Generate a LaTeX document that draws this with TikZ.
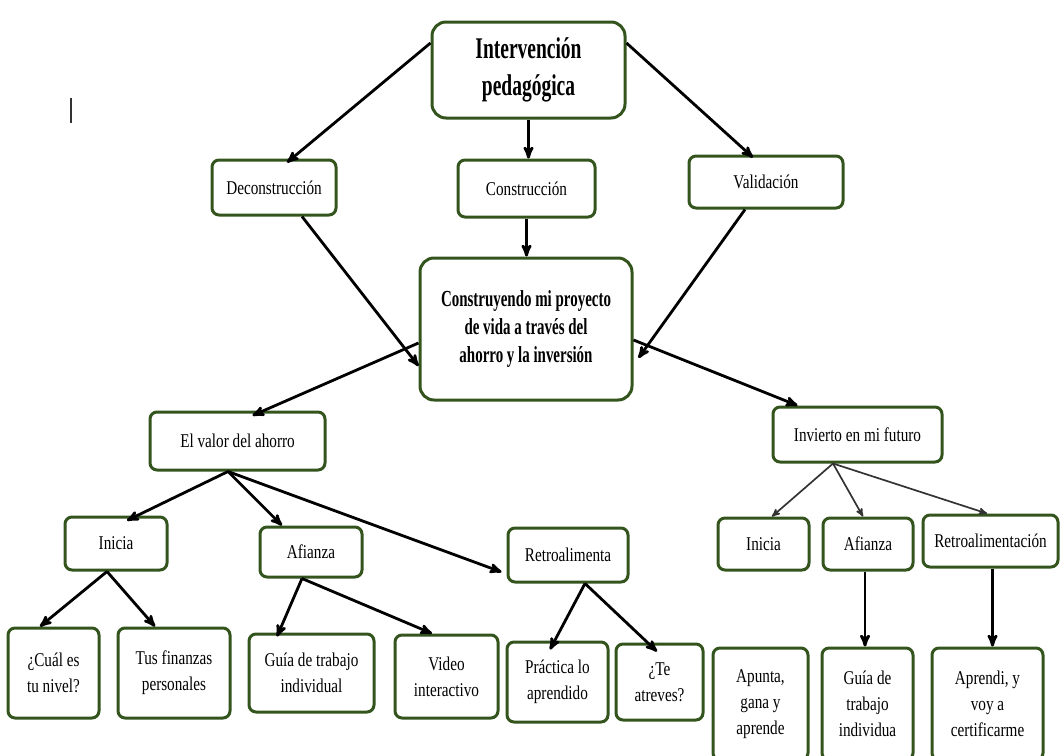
\documentclass[tikz,border=0pt]{standalone}
\usepackage{fontspec}
\setmainfont{Liberation Serif}[FakeStretch=0.78]
\newfontfamily\narrowbold{Liberation Serif}[FakeStretch=0.65]
\usetikzlibrary{arrows,positioning}
\definecolor{boxgreen}{RGB}{52,84,30}

\begin{document}
\begin{tikzpicture}[x=1pt,y=-1pt,->,>=stealth',
	box/.style={draw=boxgreen, line width=3pt, rounded corners=7pt, fill=white, align=center, inner sep=1pt, font=\fontsize{19.5}{26}\selectfont},
	bigbox/.style={box, rounded corners=14pt, font=\narrowbold\bfseries\fontsize{23}{28}\selectfont},
	titlebox/.style={bigbox, font=\narrowbold\bfseries\fontsize{30}{37}\selectfont},
	link/.style={line width=2.8pt},
	thinlink/.style={line width=1.7pt, black!80}]
\useasboundingbox (0,0) rectangle (1060,755);
\clip (0,0) rectangle (1060,755);
\draw[-, line width=1.2pt, black!80] (71,98) -- (71,123);

\node[titlebox, minimum width=193, minimum height=96] (intv) at (528.5,70) {Intervención\\pedagógica};
\node[box, minimum width=124, minimum height=55] (decon) at (274,187.5) {Deconstrucción};
\node[box, minimum width=137, minimum height=57] (constr) at (526.5,188.5) {Construcción};
\node[box, minimum width=154, minimum height=52] (valid) at (766,182) {Validación};
\node[bigbox, minimum width=212, minimum height=142] (proy) at (526,329) {Construyendo mi proyecto\\de vida a través del\\ahorro y la inversión};

\node[box, minimum width=175, minimum height=58] (valor) at (237.5,441) {El valor del ahorro};
\node[box, minimum width=169, minimum height=55] (invi) at (857.5,434.5) {Invierto en mi futuro};

\node[box, minimum width=102, minimum height=53] (inicL) at (116,543.5) {Inicia};
\node[box, minimum width=102, minimum height=50] (afiL) at (311,552) {Afianza};
\node[box, minimum width=120, minimum height=54] (retroL) at (568,555) {Retroalimenta};
\node[box, minimum width=91, minimum height=52] (inicR) at (763.5,544) {Inicia};
\node[box, minimum width=90, minimum height=52] (afiR) at (868,544) {Afianza};
\node[box, minimum width=135, minimum height=52] (retroR) at (990.5,541) {Retroalimentación};

\node[box, minimum width=91, minimum height=90] (cual) at (53.5,673) {¿Cuál es\\tu nivel?};
\node[box, minimum width=112, minimum height=90] (finan) at (174,673) {Tus finanzas\\personales};
\node[box, minimum width=125, minimum height=78] (guiaL) at (311.5,673) {Guía de trabajo\\individual};
\node[box, minimum width=103, minimum height=83] (video) at (446.5,676.5) {Video\\interactivo};
\node[box, minimum width=101, minimum height=80] (pract) at (557.5,682) {Práctica lo\\aprendido};
\node[box, minimum width=87, minimum height=76] (atrev) at (659.5,682) {¿Te\\atreves?};
\node[box, minimum width=95, minimum height=112] (apunta) at (760.5,704) {Apunta,\\gana y\\aprende};
\node[box, minimum width=91, minimum height=112] (guiaR) at (867.5,704) {Guía de\\trabajo\\individua};
\node[box, minimum width=111, minimum height=112] (aprendi) at (987.5,704) {Aprendi, y\\voy a\\certificarme};

\draw[link] ([yshift=27]intv.west) -- ([xshift=13,yshift=-4]decon.north);
\draw[link] (intv.south) -- (intv.south |- constr.north);
\draw[link] ([yshift=27]intv.east) -- ([xshift=-13,yshift=-3]valid.north);
\draw[link] ([xshift=28]decon.south) -- ([yshift=-37]proy.west);
\draw[link] (constr.south) -- (constr.south |- proy.north);
\draw[link] ([xshift=-21]valid.south) -- ([xshift=5,yshift=-29]proy.east);
\draw[link] ([yshift=-14]proy.west) -- ([xshift=15,yshift=-5]valor.north);
\draw[link] ([yshift=-11]proy.east) -- ([xshift=-60]invi.north);

\draw[link] ([xshift=-9.5]valor.south) -- ([xshift=11,yshift=-5]inicL.north);
\draw[link] ([xshift=-9.5]valor.south) -- ([xshift=-29]afiL.north);
\draw[link] ([xshift=-9.5]valor.south) -- ([xshift=-5,yshift=-17]retroL.west);
\draw[link] ([xshift=-9]inicL.south) -- ([xshift=-13.5]cual.north);
\draw[link] ([xshift=-9]inicL.south) -- ([xshift=-19]finan.north);
\draw[link] ([xshift=-9]afiL.south) -- ([xshift=-34.5,yshift=-4]guiaL.north);
\draw[link] ([xshift=-9]afiL.south) -- ([xshift=-14.5]video.north);
\draw[link] ([xshift=17]retroL.south) -- ([xshift=-7.5,yshift=-9]pract.north);
\draw[link] ([xshift=17]retroL.south) -- ([xshift=-2.5,yshift=-9]atrev.north);

\draw[thinlink] ([xshift=-24.5]invi.south) -- ([xshift=8.5]inicR.north);
\draw[thinlink] ([xshift=-24.5]invi.south) -- ([xshift=-5]afiR.north);
\draw[thinlink] ([xshift=-24.5]invi.south) -- ([xshift=-3.5]retroR.north);
\draw[link] ([xshift=-3]afiR.south) -- ([xshift=-3]afiR.south |- guiaR.north);
\draw[link] ([xshift=2]retroR.south) -- ([xshift=2]retroR.south |- aprendi.north);
\end{tikzpicture}
\end{document}
